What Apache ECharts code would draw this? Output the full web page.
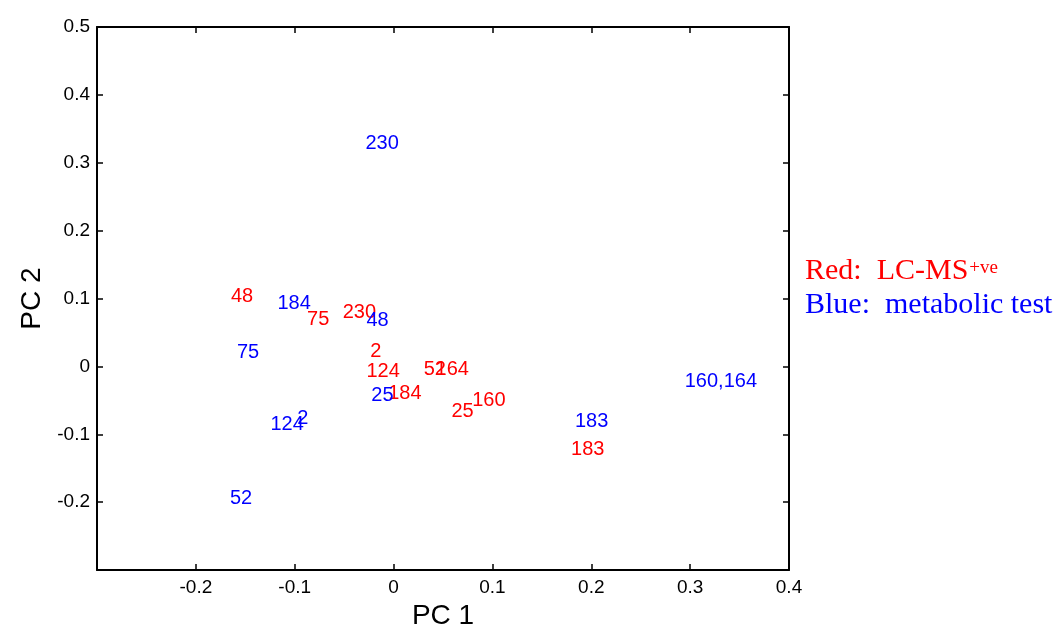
<!DOCTYPE html>
<html>
<head>
<meta charset="utf-8">
<script src="https://cdn.jsdelivr.net/npm/echarts@6/dist/echarts.min.js"></script>
<style>html,body{margin:0;padding:0;background:#fff}#c{width:1057px;height:635px}</style>
</head>
<body>
<div id="c"></div>
<script>
// Red: LC-MS+ve
const redLabels = ['48', '75', '230', '2', '124', '52', '164', '184', '25', '160', '183'];
const redX = [-0.165, -0.088, -0.052, -0.024, -0.028, 0.030, 0.042, -0.006, 0.058, 0.079, 0.179];
const redY = [0.103, 0.069, 0.079, 0.022, -0.007, -0.005, -0.005, -0.040, -0.066, -0.050, -0.122];
// Blue: metabolic test
const blueLabels = ['230', '184', '48', '75', '25', '124', '2', '52', '183', '160,164'];
const blueX = [-0.029, -0.118, -0.028, -0.159, -0.023, -0.125, -0.098, -0.166, 0.183, 0.294];
const blueY = [0.329, 0.093, 0.068, 0.021, -0.043, -0.085, -0.077, -0.194, -0.081, -0.022];

const xTicks = { min: -0.3, max: 0.4, interval: 0.1 };
const yTicks = { min: -0.3, max: 0.5, interval: 0.1 };

const FONT = 'Liberation Sans, Arial, sans-serif';
const SERIF = 'Liberation Serif, Times New Roman, serif';

function pts(xs, ys, labels) {
  return xs.map((x, i) => ({ value: [x, ys[i]], name: labels[i] }));
}
function fmt(v) {
  if (v < -0.25) return '';
  return String(Math.round(v * 10) / 10);
}
const tickStyle = { show: true, inside: true, length: 6, lineStyle: { color: '#000', width: 1.5 } };
const lineStyle = { show: true, onZero: false, lineStyle: { color: '#000', width: 2 } };

const chart = echarts.init(document.getElementById('c'));
chart.setOption({
  animation: false,
  grid: { left: 97, right: 268, top: 27, bottom: 64 },
  xAxis: [
    { type: 'value', position: 'bottom', min: xTicks.min, max: xTicks.max, interval: xTicks.interval,
      name: 'PC 1', nameLocation: 'middle', nameGap: 20,
      nameTextStyle: { fontFamily: FONT, fontSize: 28, color: '#000' },
      axisLine: lineStyle, axisTick: tickStyle, splitLine: { show: false },
      axisLabel: { formatter: fmt, fontFamily: FONT, fontSize: 19, color: '#000', margin: 8 } },
    { type: 'value', position: 'top', min: xTicks.min, max: xTicks.max, interval: xTicks.interval,
      axisLine: lineStyle, axisTick: tickStyle, splitLine: { show: false }, axisLabel: { show: false } }
  ],
  yAxis: [
    { type: 'value', position: 'left', min: yTicks.min, max: yTicks.max, interval: yTicks.interval,
      name: 'PC 2', nameLocation: 'middle', nameGap: 51,
      nameTextStyle: { fontFamily: FONT, fontSize: 28, color: '#000' },
      axisLine: lineStyle, axisTick: tickStyle, splitLine: { show: false },
      axisLabel: { formatter: fmt, fontFamily: FONT, fontSize: 19, color: '#000', margin: 7 } },
    { type: 'value', position: 'right', min: yTicks.min, max: yTicks.max, interval: yTicks.interval,
      axisLine: lineStyle, axisTick: tickStyle, splitLine: { show: false }, axisLabel: { show: false } }
  ],
  series: [
    { type: 'scatter', xAxisIndex: 0, yAxisIndex: 0, symbolSize: 1,
      itemStyle: { color: 'rgba(0,0,0,0)', opacity: 1 },
      emphasis: { disabled: true },
      data: pts(redX, redY, redLabels),
      label: { show: true, position: 'right', distance: 0, formatter: '{b}',
        fontFamily: FONT, fontSize: 20, color: '#ff0000' } },
    { type: 'scatter', xAxisIndex: 0, yAxisIndex: 0, symbolSize: 1,
      itemStyle: { color: 'rgba(0,0,0,0)', opacity: 1 },
      emphasis: { disabled: true },
      data: pts(blueX, blueY, blueLabels),
      label: { show: true, position: 'right', distance: 0, formatter: '{b}',
        fontFamily: FONT, fontSize: 20, color: '#0000ff' } }
  ],
  graphic: [
    { type: 'text', left: 805, top: 256,
      style: { text: '{a|Red:  LC-MS}{s|+ve}', rich: {
        a: { fontFamily: SERIF, fontSize: 30, fill: '#ff0000', lineHeight: 32 },
        s: { fontFamily: SERIF, fontSize: 19, fill: '#ff0000', verticalAlign: 'top', padding: [4, 0, 0, 1] } } } },
    { type: 'text', left: 805, top: 290,
      style: { text: 'Blue:  metabolic test', fontFamily: SERIF, fontSize: 30, fill: '#0000ff' } }
  ]
});
</script>
</body>
</html>
